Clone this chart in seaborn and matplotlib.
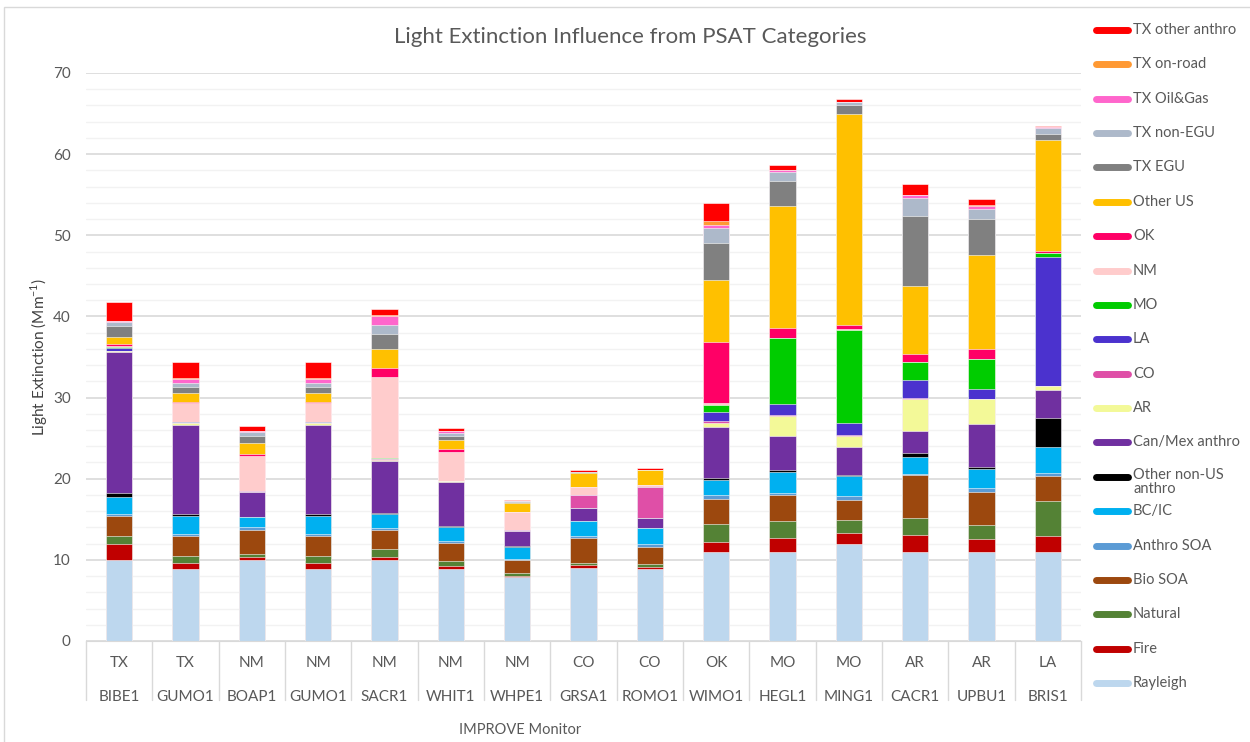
import numpy as np
import pandas as pd
import seaborn as sns
import matplotlib.pyplot as plt
from matplotlib.lines import Line2D
from matplotlib.patches import Rectangle

sns.set_style('white')
plt.rcParams['font.family'] = ['Lato', 'DejaVu Sans']
plt.rcParams['mathtext.fontset'] = 'custom'
plt.rcParams['mathtext.rm'] = 'Lato'

states = ['TX', 'TX', 'NM', 'NM', 'NM', 'NM', 'NM', 'CO', 'CO', 'OK', 'MO', 'MO', 'AR', 'AR', 'LA']
sites = ['BIBE1', 'GUMO1', 'BOAP1', 'GUMO1', 'SACR1', 'WHIT1', 'WHPE1', 'GRSA1', 'ROMO1',
         'WIMO1', 'HEGL1', 'MING1', 'CACR1', 'UPBU1', 'BRIS1']

# stacked bottom -> top
rayleigh = [10.0, 8.9, 10.0, 8.9, 10.0, 8.87, 7.93, 8.96, 8.91, 11.0, 11.0, 12.0, 11.0, 11.0, 11.0]
fire = [2.0, 0.75, 0.3, 0.75, 0.3, 0.41, 0.12, 0.41, 0.2, 1.24, 1.7, 1.3, 2.1, 1.55, 1.91]
natural = [0.9, 0.8, 0.45, 0.8, 1.03, 0.53, 0.33, 0.2, 0.41, 2.2, 2.1, 1.6, 2.06, 1.79, 4.39]
bio_soa = [2.5, 2.47, 2.96, 2.47, 2.38, 2.3, 1.56, 3.12, 2.05, 3.05, 3.14, 2.5, 5.24, 4.08, 3.09]
anthro_soa = [0.25, 0.25, 0.3, 0.25, 0.2, 0.16, 0.12, 0.29, 0.37, 0.54, 0.36, 0.5, 0.23, 0.45, 0.36]
bc_ic = [2.1, 2.25, 1.23, 2.25, 1.8, 1.73, 1.56, 1.81, 2.01, 1.84, 2.55, 2.46, 2.02, 2.33, 3.19]
other_nonus = [0.45, 0.2, 0.05, 0.2, 0.05, 0.16, 0.03, 0.0, 0.0, 0.18, 0.22, 0.05, 0.49, 0.23, 3.58]
canmex = [17.4, 11.0, 3.08, 11.0, 6.4, 5.42, 1.89, 1.56, 1.23, 6.32, 4.17, 3.45, 2.78, 5.37, 3.45]
ar = [0.1, 0.25, 0.05, 0.25, 0.15, 0.1, 0.05, 0.0, 0.0, 0.53, 2.51, 1.43, 3.9, 3.01, 0.41]
co = [0.05, 0.0, 0.05, 0.0, 0.1, 0.0, 0.05, 1.64, 3.82, 0.23, 0.05, 0.05, 0.18, 0.05, 0.05]
la = [0.4, 0.15, 0.05, 0.15, 0.05, 0.05, 0.0, 0.0, 0.0, 1.07, 1.42, 1.57, 2.19, 1.2, 15.91]
mo = [0.1, 0.0, 0.0, 0.0, 0.15, 0.0, 0.0, 0.0, 0.0, 0.94, 8.07, 11.43, 2.2, 3.68, 0.45]
nm = [0.05, 2.26, 4.23, 2.26, 9.97, 3.53, 2.26, 1.03, 0.2, 0.18, 0.05, 0.05, 0.05, 0.05, 0.05]
ok = [0.25, 0.2, 0.3, 0.2, 1.08, 0.41, 0.05, 0.0, 0.0, 7.58, 1.2, 0.5, 0.99, 1.21, 0.26]
other_us = [0.9, 1.03, 1.3, 1.03, 2.34, 1.1, 1.03, 1.64, 1.93, 7.53, 15.02, 26.1, 8.33, 11.52, 13.68]
tx_egu = [1.36, 0.74, 0.9, 0.74, 1.85, 0.5, 0.16, 0.2, 0.0, 4.62, 3.14, 1.03, 8.56, 4.48, 0.76]
tx_nonegu = [0.5, 0.5, 0.53, 0.5, 1.11, 0.33, 0.1, 0.0, 0.0, 1.79, 1.07, 0.36, 2.24, 1.3, 0.67]
tx_oilgas = [0.1, 0.6, 0.1, 0.6, 1.15, 0.29, 0.0, 0.0, 0.0, 0.45, 0.27, 0.05, 0.36, 0.27, 0.15]
tx_onroad = [0.05, 0.1, 0.05, 0.1, 0.05, 0.0, 0.0, 0.0, 0.0, 0.45, 0.05, 0.05, 0.05, 0.18, 0.0]
tx_other = [2.34, 1.93, 0.55, 1.93, 0.74, 0.33, 0.08, 0.2, 0.16, 2.28, 0.6, 0.27, 1.35, 0.76, 0.12]

labels = ['Rayleigh', 'Fire', 'Natural', 'Bio SOA', 'Anthro SOA', 'BC/IC', 'Other non-US anthro',
          'Can/Mex anthro', 'AR', 'CO', 'LA', 'MO', 'NM', 'OK', 'Other US', 'TX EGU',
          'TX non-EGU', 'TX Oil&Gas', 'TX on-road', 'TX other anthro']
colors = ['#BDD7EE', '#C00000', '#548235', '#9C480E', '#5B9BD5', '#00B0F0', '#000000',
          '#7030A0', '#F3F998', '#DF4FA7', '#4B32CE', '#00CC00', '#FFCCCC', '#FF0066',
          '#FFC000', '#808080', '#ADB9CA', '#FF66CC', '#FF9933', '#FF0000']

stack = np.array([rayleigh, fire, natural, bio_soa, anthro_soa, bc_ic, other_nonus, canmex,
                  ar, co, la, mo, nm, ok, other_us, tx_egu, tx_nonegu, tx_oilgas, tx_onroad, tx_other])
cum = stack.cumsum(axis=0)

W, H = 1250, 742
fig = plt.figure(figsize=(12.5, 7.42), dpi=100)
ax = fig.add_axes([86 / W, 1 - 641 / H, 995 / W, 568 / H])

# draw cumulative totals from the top category down so each segment shows
for i in reversed(range(len(labels))):
    d = pd.DataFrame({'pos': range(len(sites)), 'ext': cum[i]})
    sns.barplot(data=d, x='pos', y='ext', color=colors[i], saturation=1, width=0.4,
                errorbar=None, edgecolor='white', linewidth=0.4, ax=ax)

ax.set_xlim(-0.5, len(sites) - 0.5)
ax.set_ylim(0, 70)
ax.set_yticks(range(0, 71, 10))
ax.set_yticks(np.arange(0, 70, 2), minor=True)
ax.grid(axis='y', which='major', color='#D9D9D9', lw=1.2)
ax.grid(axis='y', which='minor', color='#F2F2F2', lw=1.0)
ax.set_axisbelow(True)
ax.tick_params(axis='y', which='both', length=0, labelsize=11, labelcolor='#595959', pad=11)
ax.set_xticks([])
ax.set_xlabel('')
for s in ['top', 'right', 'left']:
    ax.spines[s].set_visible(False)
ax.spines['bottom'].set_color('#D9D9D9')
ax.set_ylabel('Light Extinction (Mm$^{-1}$)', fontsize=11, color='#404040')
ax.yaxis.set_label_coords(-36 / 995, 0.5)

# two-level category axis
tr = ax.get_xaxis_transform()
for b in np.arange(-0.5, len(sites), 1):
    ax.plot([b, b], [0, -59 / 568], color='#D9D9D9', lw=1, transform=tr, clip_on=False)
for i, (st, si) in enumerate(zip(states, sites)):
    ax.text(i, -22 / 568, st, transform=tr, ha='center', va='center', fontsize=11, color='#595959')
    ax.text(i, -56 / 568, si, transform=tr, ha='center', va='center', fontsize=11, color='#595959')

fig.text(520 / W, 1 - 730 / H, 'IMPROVE Monitor', ha='center', va='center', fontsize=10.5, color='#595959')
fig.text(630 / W, 1 - 37 / H, 'Light Extinction Influence from PSAT Categories',
         ha='center', va='center', fontsize=16, color='#595959')

# legend, top entry first
for k, i in enumerate(reversed(range(len(labels)))):
    y = 1 - (30 + k * 34.37) / H
    fig.add_artist(Line2D([1096 / W, 1128 / W], [y, y], color=colors[i], lw=5))
    if labels[i] == 'Other non-US anthro':
        fig.text(1133 / W, y + 9 / H, 'Other non-US\nanthro', va='top', fontsize=10.5,
                 color='#595959', linespacing=1.05)
    else:
        fig.text(1133 / W, y, labels[i], va='center', fontsize=10.5, color='#595959')

fig.add_artist(Rectangle((4 / W, -0.05), 1.1, 1.05 - 7 / H, transform=fig.transFigure,
                         fill=False, edgecolor='#D9D9D9', lw=1))

fig.savefig('out.png', dpi=100)
